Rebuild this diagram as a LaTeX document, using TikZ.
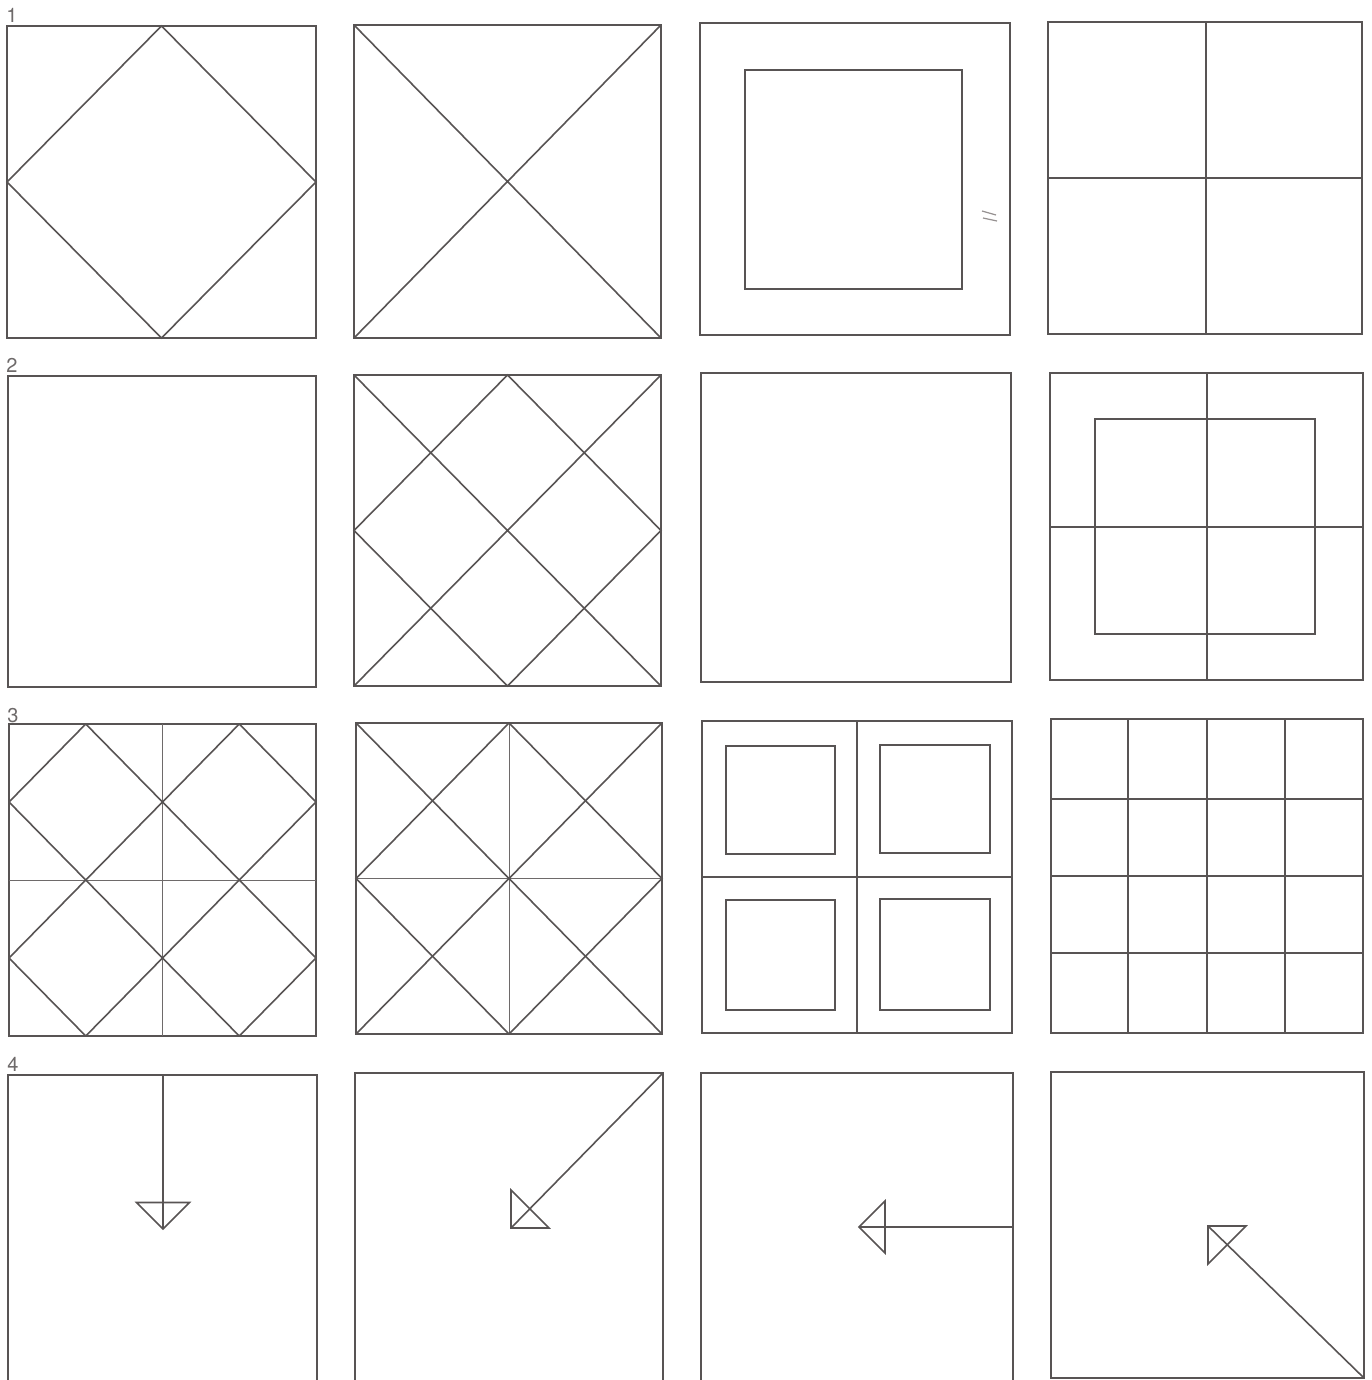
\documentclass[tikz,border=0pt]{standalone}
\usepackage{fontspec}
\setsansfont{TeX Gyre Heros}
\begin{document}
\begin{tikzpicture}[x=0.5pt,y=-0.5pt,
  ln/.style={draw={rgb,255:red,88;green,84;blue,84},line width=0.8pt,line join=miter},
  thinln/.style={draw={rgb,255:red,110;green,106;blue,106},line width=0.5pt},
  scuff/.style={draw={rgb,255:red,150;green,145;blue,145},line width=0.6pt},
  lab/.style={inner sep=0pt,anchor=south west,text={rgb,255:red,110;green,106;blue,106},font=\sffamily\fontsize{10}{10}\selectfont}]
\useasboundingbox[fill=white] (0,0) rectangle (1371,1380);
\newcommand{\sqr}[4]{\draw[ln] (#1,#2) rectangle (#3,#4);}
\newcommand{\dmd}[4]{\draw[ln] ({(#1+#3)/2},#2) -- (#3,{(#2+#4)/2}) -- ({(#1+#3)/2},#4) -- (#1,{(#2+#4)/2}) -- cycle;}
\newcommand{\xdiag}[4]{\draw[ln] (#1,#2) -- (#3,#4) (#3,#2) -- (#1,#4);}
\newcommand{\mcross}[5]{\draw[#5] ({(#1+#3)/2},#2) -- ({(#1+#3)/2},#4) (#1,{(#2+#4)/2}) -- (#3,{(#2+#4)/2});}
% labels
\node[lab] (l1) at (6,23) {1};
\node[lab] (l2) at (6,373) {2};
\node[lab] (l3) at (7,723) {3};
\node[lab] (l4) at (7,1072) {4};
% ---------- row 1
\sqr{7}{26}{316}{338}
\dmd{7}{26}{316}{338}
\sqr{354}{25}{661}{338}
\xdiag{354}{25}{661}{338}
\sqr{700}{23}{1010}{335}
\sqr{745}{70}{962}{289}
\draw[scuff] (982,211) -- (996,215) (983,218) -- (997,221);
\sqr{1048}{22}{1362}{334}
\draw[ln] (1206,22) -- (1206,334) (1048,178) -- (1362,178);
% ---------- row 2
\sqr{8}{376}{316}{687}
\sqr{354}{375}{661}{686}
\xdiag{354}{375}{661}{686}
\dmd{354}{375}{661}{686}
\sqr{701}{373}{1011}{682}
\sqr{1050}{373}{1363}{680}
\draw[ln] (1207,373) -- (1207,680) (1050,527) -- (1363,527);
\sqr{1095}{419}{1315}{634}
% ---------- row 3
\sqr{9}{724}{316}{1036}
\mcross{9}{724}{316}{1036}{thinln}
\draw[ln] (85.75,724) -- (316,958) (9,802) -- (239.25,1036)
          (239.25,724) -- (316,802) (9,958) -- (85.75,1036)
          (9,802) -- (85.75,724) (9,958) -- (239.25,724)
          (85.75,1036) -- (316,802) (239.25,1036) -- (316,958);
\sqr{356}{723}{662}{1034}
\mcross{356}{723}{662}{1034}{thinln}
\xdiag{356}{723}{662}{1034}
\dmd{356}{723}{662}{1034}
\sqr{702}{721}{1012}{1033}
\draw[ln] (857,721) -- (857,1033) (702,877) -- (1012,877);
\sqr{726}{746}{835}{854}
\sqr{880}{745}{990}{853}
\sqr{726}{900}{835}{1010}
\sqr{880}{899}{990}{1010}
\sqr{1051}{719}{1363}{1033}
\draw[ln] (1128,719) -- (1128,1033) (1207,719) -- (1207,1033) (1285,719) -- (1285,1033)
          (1051,799) -- (1363,799) (1051,876) -- (1363,876) (1051,953) -- (1363,953);
% ---------- row 4
\sqr{8}{1075}{317}{1390}
\coordinate (t1) at (163,1229);
\draw[ln] (163,1075) -- (t1);
\draw[ln] (t1) -- (136.5,1202.5) -- (189.5,1202.5) -- cycle;
\sqr{355}{1073}{663}{1390}
\coordinate (t2) at (511,1228);
\draw[ln] (663,1073) -- (t2);
\draw[ln] (t2) -- (511,1190) -- (549,1228) -- cycle;
\sqr{701}{1073}{1013}{1390}
\coordinate (t3) at (859,1227);
\draw[ln] (1013,1227) -- (t3);
\draw[ln] (t3) -- (885,1201) -- (885,1253) -- cycle;
\sqr{1051}{1072}{1364}{1378}
\coordinate (t4) at (1208,1226);
\draw[ln] (1364,1378) -- (t4);
\draw[ln] (t4) -- (1246,1226) -- (1208,1264) -- cycle;
\end{tikzpicture}
\end{document}
